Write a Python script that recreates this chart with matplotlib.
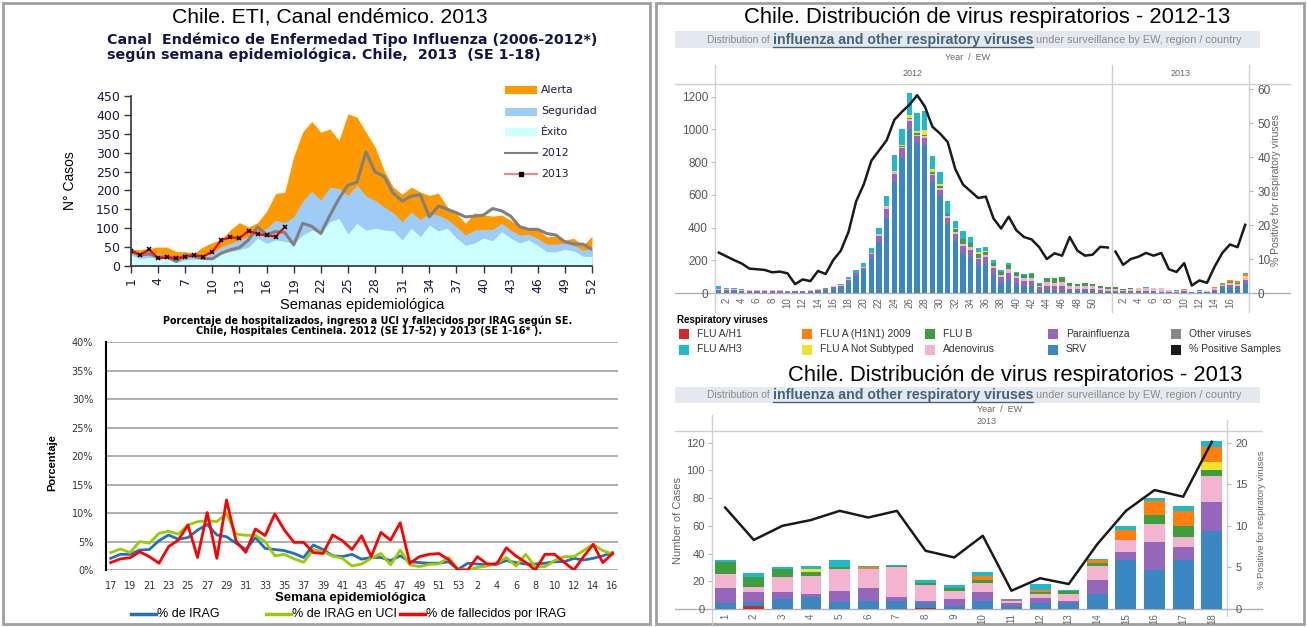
import matplotlib
matplotlib.use('Agg')
import matplotlib.pyplot as plt
import numpy as np
from matplotlib.patches import Rectangle

# ---------------- DATA ----------------
# Top-left: canal endemico ETI (weeks 1-52)
WEEKS = list(range(1, 53))
ALERTA = [44, 43, 47, 50, 50, 38, 38, 34, 51, 62, 69, 96, 115, 103, 115, 145, 192, 195, 290, 355,
          383, 354, 363, 332, 403, 394, 354, 315, 253, 209, 190, 209, 196, 187, 193, 156, 139, 113, 141, 135,
          132, 135, 121, 104, 99, 97, 77, 79, 69, 73, 55, 79]
SEGURIDAD = [34, 29, 32, 32, 29, 20, 25, 25, 27, 34, 51, 60, 69, 78, 87, 100, 121, 115, 130, 172,
             198, 174, 209, 205, 187, 214, 185, 174, 156, 141, 117, 143, 123, 139, 135, 123, 104, 82, 95, 97,
             97, 113, 95, 82, 84, 73, 58, 58, 61, 55, 42, 47]
EXITO = [29, 20, 23, 20, 18, 9, 16, 18, 18, 20, 34, 38, 43, 50, 74, 60, 69, 65, 59, 82,
         95, 86, 117, 126, 85, 113, 95, 100, 95, 93, 69, 100, 78, 108, 93, 100, 74, 55, 61, 74,
         67, 91, 74, 61, 69, 55, 38, 38, 44, 40, 26, 25]
CASES_2012 = [38, 29, 32, 23, 25, 12, 29, 25, 20, 19, 34, 43, 49, 69, 103, 83, 91, 89, 56, 113,
              105, 86, 134, 178, 214, 222, 302, 249, 237, 193, 172, 185, 189, 130, 159, 150, 141, 130, 132, 135,
              152, 146, 132, 104, 97, 97, 86, 82, 64, 58, 58, 44]
WEEKS_2013 = list(range(1, 19))
CASES_2013 = [41, 29, 44, 20, 23, 21, 24, 29, 25, 38, 69, 76, 74, 93, 85, 81, 78, 103]

# Bottom-left: % IRAG (2012 SE17-53, 2013 SE1-16)
SE_LABELS = [str(w) for w in range(17, 54)] + [str(w) for w in range(1, 17)]
PCT_IRAG = [2.05, 2.75, 2.75, 3.5, 3.6, 5.15, 6.15, 5.4, 5.7, 7.0, 8.0, 6.15, 5.85, 4.7, 3.6, 5.7, 3.8,
            3.6, 3.4, 2.9, 2.2, 4.4, 3.6, 2.5, 2.35, 2.75, 1.9, 2.2, 2.2, 1.65, 2.5, 1.45, 1.3, 1.2, 1.2,
            1.45, 0.1, 1.2, 1.05, 0.9, 1.05, 1.65, 1.3, 1.05, 1.05, 1.2, 1.45, 1.45, 2.05, 1.75, 2.05, 2.5, 3.05]
PCT_UCI = [3.05, 3.7, 3.05, 5.0, 4.7, 6.45, 6.8, 6.3, 7.9, 8.5, 8.65, 8.5, 9.85, 6.3, 6.1, 6.1, 5.0,
           2.5, 2.75, 1.95, 1.35, 3.6, 3.2, 2.45, 2.05, 0.7, 1.05, 2.05, 2.9, 0.9, 3.5, 0.9, 0.6, 1.0, 1.05,
           2.2, 0.1, 0.0, 0.45, 0.7, 1.2, 2.2, 0.7, 2.75, 0.6, 0.6, 1.65, 2.35, 2.35, 3.4, 4.5, 3.4, 2.8]
PCT_FALL = [1.3, 1.95, 2.15, 3.2, 2.35, 1.2, 4.1, 5.25, 7.9, 2.2, 10.1, 2.05, 12.3, 5.0, 3.1, 7.2, 6.05,
            9.85, 7.0, 4.85, 4.85, 3.05, 2.9, 6.15, 5.15, 3.6, 6.0, 2.35, 6.6, 5.25, 8.3, 1.2, 2.35, 2.75, 2.9,
            1.85, 0.0, 0.0, 2.35, 1.05, 1.05, 3.9, 2.45, 1.35, 0.0, 2.75, 2.75, 1.35, 0.0, 2.35, 4.5, 1.3, 2.9]

# Right: respiratory viruses by EW
SRV_12 = [5, 5, 5, 4, 4, 4, 3, 3, 3, 2, 3, 4, 5, 10, 15, 25, 35, 70, 105, 140,
          215, 310, 460, 680, 823, 1000, 915, 905, 680, 590, 420, 320, 240, 220, 170, 180, 110, 60, 80, 50,
          40, 35, 15, 20, 15, 15, 10, 10, 10, 10, 8, 5]
PARA_12 = [15, 12, 12, 10, 10, 10, 9, 9, 9, 3, 8, 7, 8, 9, 9, 10, 10, 10, 15, 15,
           25, 40, 55, 50, 60, 50, 45, 45, 40, 40, 40, 40, 50, 45, 35, 40, 40, 35, 45, 40,
           35, 40, 20, 25, 25, 25, 15, 15, 15, 15, 12, 10]
ADENO_12 = [5, 5, 6, 5, 4, 4, 4, 4, 4, 1, 2, 2, 3, 3, 3, 5, 5, 5, 5, 5,
            5, 10, 10, 10, 10, 15, 5, 10, 10, 10, 10, 10, 10, 15, 10, 10, 15, 15, 20, 15,
            15, 15, 10, 20, 20, 25, 15, 15, 15, 15, 10, 10]
FLUB_12 = [0, 0, 0, 0, 0, 0, 0, 0, 0, 0, 0, 0, 0, 0, 0, 0, 0, 0, 0, 0,
           0, 0, 0, 0, 5, 5, 10, 5, 10, 15, 15, 20, 30, 25, 25, 20, 20, 20, 25, 20,
           20, 25, 12, 25, 30, 31, 19, 15, 19, 15, 13, 10]
NOTSUB_12 = [0, 0, 0, 0, 0, 0, 0, 0, 0, 0, 0, 0, 0, 0, 0, 0, 0, 0, 0, 0,
             0, 0, 5, 5, 5, 15, 15, 30, 15, 10, 0, 5, 0, 0, 10, 8, 0, 0, 0, 0,
             0, 0, 0, 0, 0, 0, 0, 0, 0, 0, 0, 0]
H3_12 = [15, 8, 5, 3, 2, 2, 2, 2, 2, 4, 2, 2, 2, 3, 3, 5, 5, 10, 15, 25,
         30, 40, 65, 100, 100, 135, 110, 120, 80, 75, 75, 45, 50, 40, 23, 25, 17, 11, 12, 6,
         6, 5, 2, 0, 0, 0, 0, 0, 0, 0, 0, 0]
ZERO_12 = [0] * 52

H1_13 = [0, 2, 0, 0, 0, 0, 0, 1, 0, 0, 0, 0, 0, 0, 0, 0, 0, 0]
SRV_13 = [4, 3, 7, 9, 5, 6, 6, 3, 2, 6, 2, 4, 4, 11, 35, 28, 35, 56]
PARA_13 = [11, 7, 5, 2, 8, 9, 3, 2, 5, 6, 2, 4, 2, 10, 6, 20, 10, 21]
ADENO_13 = [10, 4, 11, 13, 16, 14, 21, 11, 6, 7, 2, 3, 5, 10, 9, 13, 7, 19]
FLUB_13 = [9, 7, 6, 3, 1, 0, 1, 2, 2, 2, 0, 1, 2, 2, 0, 7, 8, 4]
NOTSUB_13 = [0, 0, 0, 2, 0, 0, 0, 0, 0, 0, 0, 0, 0, 0, 0, 0, 0, 6]
H1N1_13 = [0, 0, 0, 0, 0, 1, 0, 0, 0, 3, 0, 2, 0, 2, 7, 10, 11, 11]
H3_13 = [1, 3, 1, 2, 5, 1, 1, 2, 2, 3, 0, 4, 1, 1, 3, 2, 3, 4]
OTHER_13 = [0, 0, 0, 0, 0, 0, 0, 0, 0, 0, 1, 0, 0, 0, 0, 0, 0, 0]

POS_12 = [11.9, 10.8, 9.7, 8.7, 7.2, 7.0, 6.8, 6.1, 6.3, 5.8, 2.6, 4.0, 3.5, 6.5, 5.6, 9.7, 12.5, 18, 27, 32,
          39, 42, 45, 51, 53.4, 55.5, 58.3, 55, 49, 47, 44.5, 36.5, 32, 30, 28, 28.4, 22, 19, 22.5, 18.5,
          16.5, 15.8, 13.5, 10, 11.7, 11, 16.5, 12.5, 11, 11.3, 13.6, 13.4]
POS_13 = [12.2, 8.3, 10.0, 10.7, 11.8, 11.0, 11.8, 7.0, 6.2, 8.8, 2.2, 3.7, 3.0, 7.8, 11.8, 14.3, 13.5, 20.1]

VIRUS_COLORS = {'FLU A/H1': '#d62728', 'FLU A/H3': '#1fb8cc', 'FLU A (H1N1) 2009': '#ff7f0e',
                'FLU A Not Subtyped': '#f2e22c', 'FLU B': '#3c9e3c', 'Adenovirus': '#f4b3cf',
                'Parainfluenza': '#9467bd', 'SRV': '#3a87c2', 'Other viruses': '#888888',
                '% Positive Samples': '#1a1a1a'}

# ---------------- FIGURE ----------------
W, H = 1307, 627
fig = plt.figure(figsize=(W / 100, H / 100), dpi=100)
fig.patch.set_facecolor('white')
ARIAL = 'Liberation Sans'
VERD = 'DejaVu Sans'


def rect(x0, y0, x1, y1):
    return [x0 / W, 1 - y1 / H, (x1 - x0) / W, (y1 - y0) / H]


ov = fig.add_axes([0, 0, 1, 1], zorder=0)
ov.set_xlim(0, W)
ov.set_ylim(H, 0)
ov.axis('off')
renderer = fig.canvas.get_renderer()

# panel borders
ov.add_patch(Rectangle((3, 3), 647, 621, fill=False, ec='#a0a0a0', lw=2))
ov.add_patch(Rectangle((656, 3), 648, 621, fill=False, ec='#a0a0a0', lw=2))

# ---------- top-left ----------
ov.text(330, 17, 'Chile. ETI, Canal endémico. 2013', family=ARIAL, fontsize=15.2, ha='center', va='center')
ov.text(107, 40, 'Canal  Endémico de Enfermedad Tipo Influenza (2006-2012*)', family=VERD,
        fontweight='bold', fontsize=10.3, color='#14144a', ha='left', va='center')
ov.text(107, 55, 'según semana epidemiológica. Chile,  2013  (SE 1-18)', family=VERD,
        fontweight='bold', fontsize=10.3, color='#14144a', ha='left', va='center')

ax1 = fig.add_axes(rect(131, 96, 592, 266), facecolor='none', zorder=2)
ax1.fill_between(WEEKS, 0, ALERTA, color='#ff9900', lw=0)
ax1.fill_between(WEEKS, 0, SEGURIDAD, color='#9fcbf7', lw=0)
ax1.fill_between(WEEKS, 0, EXITO, color='#ccffff', lw=0)
ax1.plot(WEEKS, CASES_2012, color='#808080', lw=2.2)
ax1.plot(WEEKS_2013, CASES_2013, color='#ff0000', lw=1.6, marker='x', mec='black', ms=3.5, mew=1.1)
ax1.set_xlim(1, 52)
ax1.set_ylim(0, 450)
for s in ['top', 'right']:
    ax1.spines[s].set_visible(False)
ax1.spines['left'].set_bounds(0, 450)
ax1.spines['bottom'].set_bounds(1, 52)
for s in ['left', 'bottom']:
    ax1.spines[s].set_color('#333333')
    ax1.spines[s].set_linewidth(1.2)
ax1.set_yticks(range(0, 451, 50))
ax1.set_xticks(range(1, 53, 3))
ax1.set_xticklabels([str(w) for w in range(1, 53, 3)], rotation=90)
ax1.tick_params(direction='out', length=5, width=1, color='#333333', labelcolor='#1a1a40', labelsize=9, pad=3)
ax1.set_ylabel('N° Casos', family=ARIAL, fontsize=10, labelpad=14)
ov.text(362, 305, 'Semanas epidemiológica', family=ARIAL, fontsize=10.5, ha='center', va='center')

# legend top-left
leg_items = [('Alerta', '#ff9900', 90), ('Seguridad', '#9fcbf7', 111.5), ('Éxito', '#ccffff', 132)]
for lab, col, yy in leg_items:
    ov.add_patch(Rectangle((505, yy - 4), 32, 8, color=col, lw=0))
    ov.text(541, yy, lab, family=VERD, fontsize=7.8, color='#1a1a40', va='center')
ov.plot([505, 537], [153, 153], color='#808080', lw=1.5)
ov.text(541, 153, '2012', family=VERD, fontsize=7.8, color='#1a1a40', va='center')
ov.plot([505, 537], [174, 174], color='#ff8080', lw=1.5)
ov.plot([521], [174], marker='s', color='black', ms=2.5)
ov.text(541, 174, '2013', family=VERD, fontsize=7.8, color='#1a1a40', va='center')

# ---------- bottom-left ----------
ov.text(368, 320.5, 'Porcentaje de hospitalizados, ingreso a UCI y fallecidos por IRAG según SE.',
        family=VERD, fontweight='bold', fontsize=6.9, ha='center', va='center')
ov.text(369, 331.5, 'Chile, Hospitales Centinela. 2012 (SE 17-52) y 2013 (SE 1-16* ).',
        family=VERD, fontweight='bold', fontsize=6.9, ha='center', va='center')

idx = np.arange(len(SE_LABELS))
ax2 = fig.add_axes(rect(105.7, 342.3, 617.7, 570), facecolor='none', zorder=2)
ax2.set_xlim(-0.52, 52.54)
ax2.set_ylim(0, 40)
ax2.set_yticks(np.arange(0, 41, 5))
ax2.set_yticklabels([f'{v}%' for v in range(0, 41, 5)])
ax2.yaxis.grid(True, color='#a8a8a8', lw=1.3)
ax2.set_axisbelow(True)
for s in ['top', 'right', 'bottom']:
    ax2.spines[s].set_visible(False)
ax2.spines['left'].set_color('black')
ax2.spines['left'].set_linewidth(1.5)
ax2.set_xticks(idx[::2])
ax2.set_xticklabels(SE_LABELS[::2])
ax2.tick_params(axis='y', length=0, labelsize=7, labelcolor='#333333', pad=9)
ax2.tick_params(axis='x', length=0, labelsize=7, labelcolor='#333333', pad=8)
for lab in ax2.get_xticklabels() + ax2.get_yticklabels():
    lab.set_family(VERD)
ax2.plot(idx, PCT_IRAG, color='#1f70c1', lw=2)
ax2.plot(idx, PCT_UCI, color='#99cc00', lw=2)
ax2.plot(idx, PCT_FALL, color='#ff0000', lw=2)
ov.text(52, 463, 'Porcentaje', family=ARIAL, fontweight='bold', fontsize=8, rotation=90,
        ha='center', va='center')
ov.text(350, 598, 'Semana epidemiológica', family=ARIAL, fontweight='bold', fontsize=9.5,
        ha='center', va='center')
for x0, col, lab in [(131, '#1f70c1', '% de IRAG'), (266, '#99cc00', '% de IRAG en UCI'),
                     (400, '#ff0000', '% de fallecidos por IRAG')]:
    ov.plot([x0, x0 + 25], [614, 614], color=col, lw=2.5)
    ov.text(x0 + 26, 614, lab, family=ARIAL, fontsize=9, va='center')


# ---------- right panels helpers ----------
def banner(y0, y1):
    ov.add_patch(Rectangle((675, y0), 585, y1 - y0, color='#e4e9ef', lw=0))
    yc = (y0 + y1) / 2 + 0.5
    x = 707
    parts = [('Distribution of ', dict(fontsize=7.4, color='#8a8a8a')),
             ('influenza and other respiratory viruses', dict(fontsize=10.2, color='#45627f', fontweight='bold')),
             (' under surveillance by EW, region / country', dict(fontsize=7.8, color='#8a8a8a'))]
    for i, (txt, kw) in enumerate(parts):
        t = ov.text(x, yc, txt, family=ARIAL, va='center', ha='left', **kw)
        bb = t.get_window_extent(renderer)
        if i == 1:
            ov.plot([x, x + bb.width], [yc + 6.5, yc + 6.5], color='#45627f', lw=1)
        x += bb.width


def stacked(ax, xs, comps, width):
    bottom = np.zeros(len(xs))
    for name, vals in comps:
        v = np.array(vals, dtype=float)
        ax.bar(xs, v, width, bottom=bottom, color=VIRUS_COLORS[name], lw=0)
        bottom += v


GRAY = '#666666'

# ---------- top-right ----------
ov.text(987, 17, 'Chile. Distribución de virus respiratorios - 2012-13', family=ARIAL, fontsize=15.8,
        ha='center', va='center')
banner(31, 48)
ov.text(968, 57, 'Year  /  EW', family=ARIAL, fontsize=6.5, color=GRAY, ha='center', va='center')
ov.text(913, 74, '2012', family=ARIAL, fontsize=6.5, color=GRAY, ha='center', va='center')
ov.text(1181, 74, '2013', family=ARIAL, fontsize=6.5, color=GRAY, ha='center', va='center')
ov.plot([675, 1290], [84, 84], color='#d0d0d0', lw=1)
ov.plot([675, 1290], [293, 293], color='#b0b0b0', lw=1)
for xv in [715, 1112, 1249]:
    ov.plot([xv, xv], [65, 312], color='#d0d0d0', lw=1)

x12 = np.arange(1, 53) - 0.5
x13 = 52 + np.arange(1, 19) - 0.5
ax3 = fig.add_axes(rect(715, 84, 1249, 293), facecolor='none', zorder=2)
stacked(ax3, x12, [('SRV', SRV_12), ('Parainfluenza', PARA_12), ('Adenovirus', ADENO_12),
                   ('FLU B', FLUB_12), ('FLU A Not Subtyped', NOTSUB_12), ('FLU A (H1N1) 2009', ZERO_12),
                   ('FLU A/H3', H3_12)], 0.7)
comps13 = [('FLU A/H1', H1_13), ('SRV', SRV_13), ('Parainfluenza', PARA_13), ('Adenovirus', ADENO_13),
           ('FLU B', FLUB_13), ('FLU A Not Subtyped', NOTSUB_13), ('FLU A (H1N1) 2009', H1N1_13),
           ('FLU A/H3', H3_13), ('Other viruses', OTHER_13)]
stacked(ax3, x13, comps13, 0.7)
ax3.set_xlim(0, 70)
ax3.set_ylim(0, 1277)
ax3.set_yticks(range(0, 1201, 200))
xt = [w - 0.5 for w in range(2, 51, 2)] + [52 + w - 0.5 for w in range(2, 17, 2)]
xl = [str(w) for w in range(2, 51, 2)] + [str(w) for w in range(2, 17, 2)]
ax3.set_xticks(xt)
ax3.set_xticklabels(xl, rotation=90)
ax3.tick_params(axis='y', length=3, color='#bbbbbb', labelsize=8.5, labelcolor='#555555', pad=2)
ax3.tick_params(axis='x', length=0, labelsize=7, labelcolor=GRAY, pad=3)
ax3b = ax3.twinx()
ax3b.plot(x12, POS_12, color=VIRUS_COLORS['% Positive Samples'], lw=1.8)
ax3b.plot(x13, POS_13, color=VIRUS_COLORS['% Positive Samples'], lw=1.8)
ax3b.set_ylim(0, 61.6)
ax3b.set_yticks(range(0, 61, 10))
ax3b.tick_params(axis='y', length=3, color='#bbbbbb', labelsize=8.5, labelcolor='#555555', pad=3)
for a in (ax3, ax3b):
    for s in a.spines.values():
        s.set_visible(False)
    for lab in a.get_xticklabels() + a.get_yticklabels():
        lab.set_family(ARIAL)
ov.text(1276, 190, '% Positive for respiratory viruses', family=ARIAL, fontsize=7.5, color=GRAY,
        rotation=90, ha='center', va='center')

# legend
ov.text(677, 320, 'Respiratory viruses', family=ARIAL, fontweight='bold', fontsize=7, va='center')
cols_x = [679, 802, 925, 1048, 1171]
order = [['FLU A/H1', 'FLU A (H1N1) 2009', 'FLU B', 'Parainfluenza', 'Other viruses'],
         ['FLU A/H3', 'FLU A Not Subtyped', 'Adenovirus', 'SRV', '% Positive Samples']]
for r, yy in enumerate([334, 349.5]):
    for c, x0 in enumerate(cols_x):
        nm = order[r][c]
        ov.add_patch(Rectangle((x0, yy - 5), 10, 10, color=VIRUS_COLORS[nm], lw=0))
        ov.text(x0 + 18, yy, nm, family=ARIAL, fontsize=7.5, color='#333333', va='center')

# ---------- bottom-right ----------
ov.text(1015, 375, 'Chile. Distribución de virus respiratorios - 2013', family=ARIAL, fontsize=15.8,
        ha='center', va='center')
banner(387, 403)
ov.text(1000, 409, 'Year  /  EW', family=ARIAL, fontsize=6.5, color=GRAY, ha='center', va='center')
ov.text(987, 422, '2013', family=ARIAL, fontsize=6.5, color=GRAY, ha='center', va='center')
ov.plot([675, 1262], [431, 431], color='#d0d0d0', lw=1)
ov.plot([675, 1262], [609, 609], color='#b0b0b0', lw=1)
ov.plot([711.7, 711.7], [415, 627], color='#d0d0d0', lw=1)
ov.plot([1227, 1227], [420, 616], color='#d0d0d0', lw=1)

xb = np.arange(1, 19)
ax4 = fig.add_axes(rect(711.7, 431, 1227, 609), facecolor='none', zorder=2)
stacked(ax4, xb, comps13, 0.73)
ax4.set_xlim(0.53, 18.53)
ax4.set_ylim(0, 128.4)
ax4.set_yticks(range(0, 121, 20))
ax4.set_xticks(xb)
ax4.set_xticklabels([str(w) for w in xb], rotation=90)
ax4.tick_params(axis='y', length=3, color='#bbbbbb', labelsize=8, labelcolor='#555555', pad=2)
ax4.tick_params(axis='x', length=0, labelsize=7, labelcolor=GRAY, pad=3)
ax4b = ax4.twinx()
ax4b.plot(xb, POS_13, color=VIRUS_COLORS['% Positive Samples'], lw=1.8)
ax4b.set_ylim(0, 21.4)
ax4b.set_yticks(range(0, 21, 5))
ax4b.tick_params(axis='y', length=3, color='#bbbbbb', labelsize=8, labelcolor='#555555', pad=3)
for a in (ax4, ax4b):
    for s in a.spines.values():
        s.set_visible(False)
    for lab in a.get_xticklabels() + a.get_yticklabels():
        lab.set_family(ARIAL)
ov.text(678, 520, 'Number of Cases', family=ARIAL, fontsize=8, color=GRAY, rotation=90,
        ha='center', va='center')
ov.text(1262, 520, '% Positive for respiratory viruses', family=ARIAL, fontsize=6.8, color=GRAY,
        rotation=90, ha='center', va='center')

fig.savefig('out.png', dpi=100, facecolor='white')
